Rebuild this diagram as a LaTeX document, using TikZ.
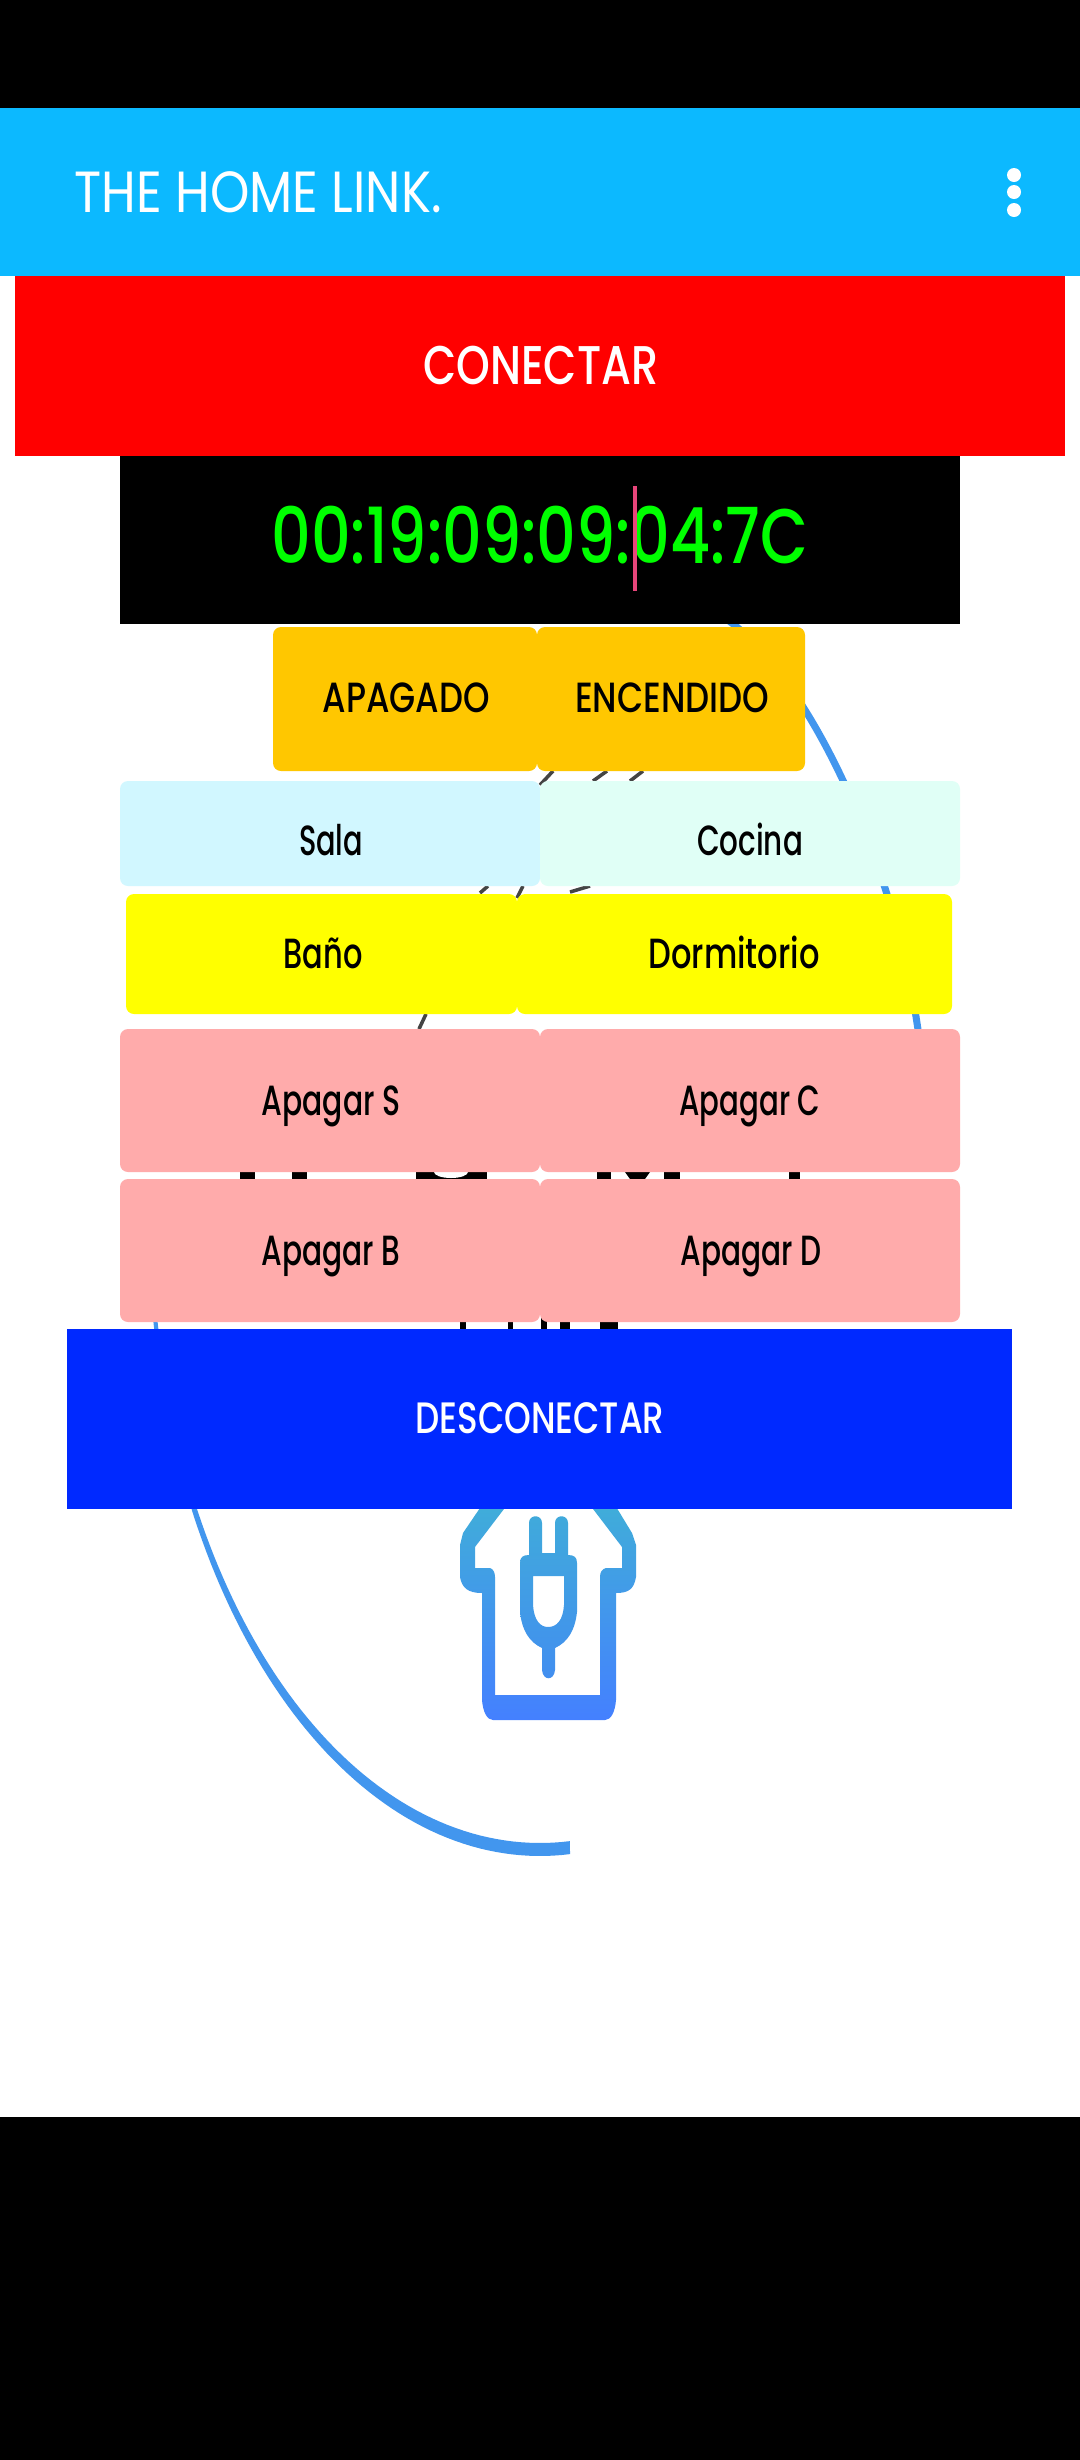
\documentclass[tikz,border=0pt]{standalone}
\usepackage{graphicx}
\usepackage{fontspec}
\setmainfont{Poppins Medium}
\newfontfamily\thinfont{Poppins}
\newcommand{\fitw}[2]{\resizebox{#1\dimexpr0.01cm\relax}{\height}{#2}}
\definecolor{barblue}{HTML}{0CB9FF}
\definecolor{amberbtn}{HTML}{FFC700}
\definecolor{salabtn}{HTML}{D1F7FF}
\definecolor{cocinabtn}{HTML}{E0FFF6}
\definecolor{bathbtn}{HTML}{FFFF00}
\definecolor{offbtn}{HTML}{FFABAB}
\definecolor{offblue}{HTML}{0029FF}
\definecolor{arcblue}{HTML}{4296EE}
\definecolor{icontop}{HTML}{40ADD9}
\definecolor{iconmid}{HTML}{4296E6}
\definecolor{iconlow}{HTML}{4480FF}
\definecolor{plugtop}{HTML}{40AADB}
\definecolor{pluglow}{HTML}{428EF0}
\definecolor{slashgrey}{HTML}{444444}
\definecolor{cursorpink}{HTML}{E8457A}
\definecolor{macgreen}{HTML}{00FF00}
\definecolor{conred}{HTML}{FF0000}
\begin{document}
\begin{tikzpicture}[x=0.01cm, y=-0.01cm,
	btn/.style={fill=#1, rounded corners=0.08cm},
	btntext/.style={font=\fontsize{12}{14}\selectfont, text=black, inner sep=0pt, anchor=base},
	bigtext/.style={font=\fontsize{15.5}{18}\selectfont, text=white, inner sep=0pt, anchor=base},
	slash/.style={slashgrey, line width=1pt}]
	\useasboundingbox (0,0) rectangle (1080,2460);
	\fill[white] (0,0) rectangle (1080,2460);
	\fill[black] (0,0) rectangle (1080,108);
	\fill[black] (0,2117) rectangle (1080,2460);
	% logo behind the buttons
	\draw[arcblue, line width=2pt] (725,618) .. controls (815,680) and (915,900) .. (925,1100);
	\fill[arcblue] plot[domain=-1:94.4, samples=80] ({540-392*cos(\x)},{1216+640*sin(\x)})
		-- plot[domain=94.4:-1, samples=80] ({540-388*cos(\x)},{1216+627*sin(\x)}) -- cycle;
	\foreach \xa/\xb in {240/255, 292/307, 416/487, 597/611, 664/680, 789/800}
		\fill[black] (\xa,1165) rectangle (\xb,1185);
	\fill[white] (451,1172) ellipse (17 and 6);
	\fill[black] (620,1165) -- (655,1165) -- (650,1172) -- (645,1179) -- (630,1179) -- (625,1172) -- cycle;
	\foreach \xa/\xb in {460/466, 508/513, 541/547, 560/570, 600/618}
		\fill[black] (\xa,1315) rectangle (\xb,1335);
	\draw[slash] (540,785) -- (553,771);
	\draw[slash] (593,781) -- (607,771);
	\draw[slash] (630,781) -- (643,771);
	\draw[slash] (480,893) -- (488,886);
	\draw[slash] (517,898) -- (523,886);
	\draw[slash] (570,892) -- (590,886);
	\draw[slash] (419,1029) -- (426,1014);
	% plug icon
	\shade[top color=icontop, middle color=iconmid, bottom color=iconlow, even odd rule]
		(482,1505) -- (463,1533) -- (460,1545) -- (460,1577) .. controls (462,1588) and (468,1593) .. (482,1593)
		-- (482,1700) .. controls (483,1712) and (487,1720) .. (493,1720) -- (605,1720) .. controls (611,1720) and (615,1712) .. (616,1700)
		-- (616,1593) .. controls (630,1593) and (634,1588) .. (636,1577) -- (636,1545) -- (632,1533) -- (615,1505) -- (590,1505)
		-- (622,1547) -- (622,1568) -- (606,1568) .. controls (602,1569) and (600,1572) .. (600,1577) -- (600,1695) -- (495,1695) -- (495,1577)
		.. controls (495,1572) and (493,1569) .. (490,1568) -- (475,1568) -- (475,1547) -- (507,1505) -- cycle;
	\shade[top color=plugtop, bottom color=pluglow, even odd rule]
		(529,1555) -- (529,1523) .. controls (529,1514) and (542,1514) .. (542,1523) -- (542,1553) -- (555,1553) -- (555,1523)
		.. controls (555,1514) and (568,1514) .. (568,1523) -- (568,1555) .. controls (574,1555) and (577,1557) .. (577,1563) -- (577,1612)
		.. controls (575,1630) and (568,1642) .. (555,1648) -- (555,1670) .. controls (554,1681) and (543,1681) .. (542,1670) -- (542,1648)
		.. controls (529,1642) and (522,1630) .. (520,1612) -- (520,1563) .. controls (520,1557) and (523,1555) .. (529,1555) -- cycle
		(533,1576) -- (533,1605) .. controls (534,1620) and (540,1627) .. (548,1627) .. controls (557,1627) and (563,1620) .. (564,1605) -- (564,1576) -- cycle;
	% bar on top
	\fill[barblue] (0,108) rectangle (1080,276);
	\node[bigtext, anchor=base west, font=\thinfont\fontsize{16.5}{18}\selectfont] (titulo) at (74,212) {\fitw{367}{THE HOME LINK.}};
	\fill[white] (1014,175) circle (7);
	\fill[white] (1014,192) circle (7);
	\fill[white] (1014,210) circle (7);
	% buttons
	\fill[conred] (15,276) rectangle (1065,456);
	\node[bigtext] (conectar) at (541,384) {\fitw{235}{CONECTAR}};
	\fill[black] (120,456) rectangle (960,624);
	\node[anchor=base, inner sep=0pt, text=macgreen, font=\fontsize{22}{24}\selectfont] (mac) at (540,563) {\fitw{537}{00:19:09:09:04:7C}};
	\fill[cursorpink] (633,486) rectangle (637,591);
	\fill[btn=amberbtn] (273,627) rectangle (537,771);
	\node[btntext] (apagado) at (406,712) {\fitw{167}{APAGADO}};
	\fill[btn=amberbtn] (537,627) rectangle (805,771);
	\node[btntext] (encendido) at (672,712) {\fitw{194}{ENCENDIDO}};
	\fill[btn=salabtn] (120,781) rectangle (540,886);
	\node[btntext] (sala) at (331,855) {\fitw{64}{Sala}};
	\fill[btn=cocinabtn] (540,781) rectangle (960,886);
	\node[btntext] (cocina) at (750,855) {\fitw{106}{Cocina}};
	\fill[btn=bathbtn] (126,894) rectangle (517,1014);
	\node[btntext] (bano) at (323,968) {\fitw{79}{Baño}};
	\fill[btn=bathbtn] (517,894) rectangle (952,1014);
	\node[btntext] (dormitorio) at (734,968) {\fitw{171}{Dormitorio}};
	\fill[btn=offbtn] (120,1029) rectangle (540,1172);
	\node[btntext] (apagars) at (331,1115) {\fitw{139}{Apagar S}};
	\fill[btn=offbtn] (540,1029) rectangle (960,1172);
	\node[btntext] (apagarc) at (750,1115) {\fitw{141}{Apagar C}};
	\fill[btn=offbtn] (120,1179) rectangle (540,1322);
	\node[btntext] (apagarb) at (331,1265) {\fitw{139}{Apagar B}};
	\fill[btn=offbtn] (540,1179) rectangle (960,1322);
	\node[btntext] (apagard) at (751,1265) {\fitw{141}{Apagar D}};
	\fill[offblue] (67,1329) rectangle (1012,1509);
	\node[bigtext, font=\fontsize{12.5}{14}\selectfont] (desconectar) at (540,1433) {\fitw{249}{DESCONECTAR}};
\end{tikzpicture}
\end{document}
